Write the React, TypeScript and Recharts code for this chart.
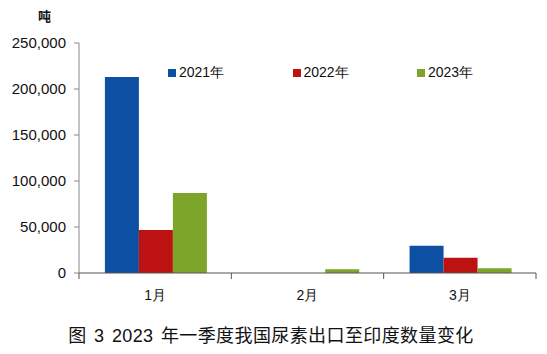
import React from "react";
import { BarChart, Bar, XAxis, YAxis } from "recharts";

const categories = ["1月", "2月", "3月"];
const series2021 = [213000, 0, 29700];
const series2022 = [46800, 0, 16600];
const series2023 = [87000, 4200, 5200];
const yTicks = [0, 50000, 100000, 150000, 200000, 250000];
const seriesNames = ["2021年", "2022年", "2023年"];
const colors = ["#0D4FA3", "#BD1212", "#7CA52A"];

const data = categories.map((c, i) => ({
  name: c,
  s2021: series2021[i],
  s2022: series2022[i],
  s2023: series2023[i],
}));

const W = 547;
const H = 354;
const LEFT = 79;
const RIGHT = 11;
const TOP = 43;
const X_AXIS_H = 30;
const BOTTOM = 81;
const PLOT_BOTTOM = H - BOTTOM;
const BAND = (W - LEFT - RIGHT) / categories.length;
const FONT = "'Liberation Sans', Arial, sans-serif";

const fmt = (v: number) => v.toLocaleString("en-US");

const CatTick = (props: any) => {
  const { x, payload, index } = props;
  return (
    <g>
      <text
        x={x}
        y={PLOT_BOTTOM + 27}
        textAnchor="middle"
        fontFamily={FONT}
        fontSize={14}
        fill="#111"
      >
        {payload.value}
      </text>
      <line x1={x + BAND / 2} x2={x + BAND / 2} y1={PLOT_BOTTOM} y2={PLOT_BOTTOM + 6} stroke="#555" />
      {index === 0 ? (
        <line x1={x - BAND / 2} x2={x - BAND / 2} y1={PLOT_BOTTOM} y2={PLOT_BOTTOM + 6} stroke="#555" />
      ) : null}
    </g>
  );
};

export default function App() {
  return (
    <div style={{ position: "absolute", left: 0, top: 0, width: W, height: H, background: "#fff" }}>
      <BarChart
        width={W}
        height={H}
        data={data}
        margin={{ top: TOP, right: RIGHT, bottom: BOTTOM - X_AXIS_H, left: 0 }}
        barCategoryGap="17%"
        barGap={0}
      >
        <XAxis
          dataKey="name"
          height={X_AXIS_H}
          tick={<CatTick />}
          tickLine={false}
          axisLine={{ stroke: "#555" }}
          interval={0}
        />
        <YAxis
          width={LEFT}
          domain={[0, 250000]}
          ticks={yTicks}
          tickFormatter={fmt}
          tickSize={5}
          tickMargin={8}
          axisLine={{ stroke: "#888" }}
          tickLine={{ stroke: "#888" }}
          tick={{ fontFamily: FONT, fontSize: 15, fill: "#111" }}
          interval={0}
        />
        <Bar dataKey="s2021" name={seriesNames[0]} fill={colors[0]} isAnimationActive={false} />
        <Bar dataKey="s2022" name={seriesNames[1]} fill={colors[1]} isAnimationActive={false} />
        <Bar dataKey="s2023" name={seriesNames[2]} fill={colors[2]} isAnimationActive={false} />
      </BarChart>
      <div
        style={{
          position: "absolute",
          left: 38,
          top: 6,
          fontFamily: "'Noto Sans CJK SC', sans-serif",
          fontSize: 13,
          fontWeight: 700,
          color: "#111",
        }}
      >
        吨
      </div>
      {seriesNames.map((n, i) => (
        <div
          key={n}
          style={{
            position: "absolute",
            left: 168 + i * 124.5,
            top: 64,
            display: "flex",
            alignItems: "center",
            fontFamily: FONT,
            fontSize: 14,
            color: "#111",
            whiteSpace: "nowrap",
          }}
        >
          <span style={{ display: "inline-block", width: 8, height: 8, background: colors[i], marginRight: 3 }} />
          <span>{n}</span>
        </div>
      ))}
      <div
        style={{
          position: "absolute",
          left: 0,
          width: 542,
          top: 321,
          textAlign: "center",
          fontFamily: "'Liberation Sans', 'Noto Sans CJK SC', sans-serif",
          fontSize: 18,
          letterSpacing: 0.4,
          wordSpacing: 2,
          color: "#111",
          whiteSpace: "nowrap",
        }}
      >
        图 3 2023 年一季度我国尿素出口至印度数量变化
      </div>
    </div>
  );
}
